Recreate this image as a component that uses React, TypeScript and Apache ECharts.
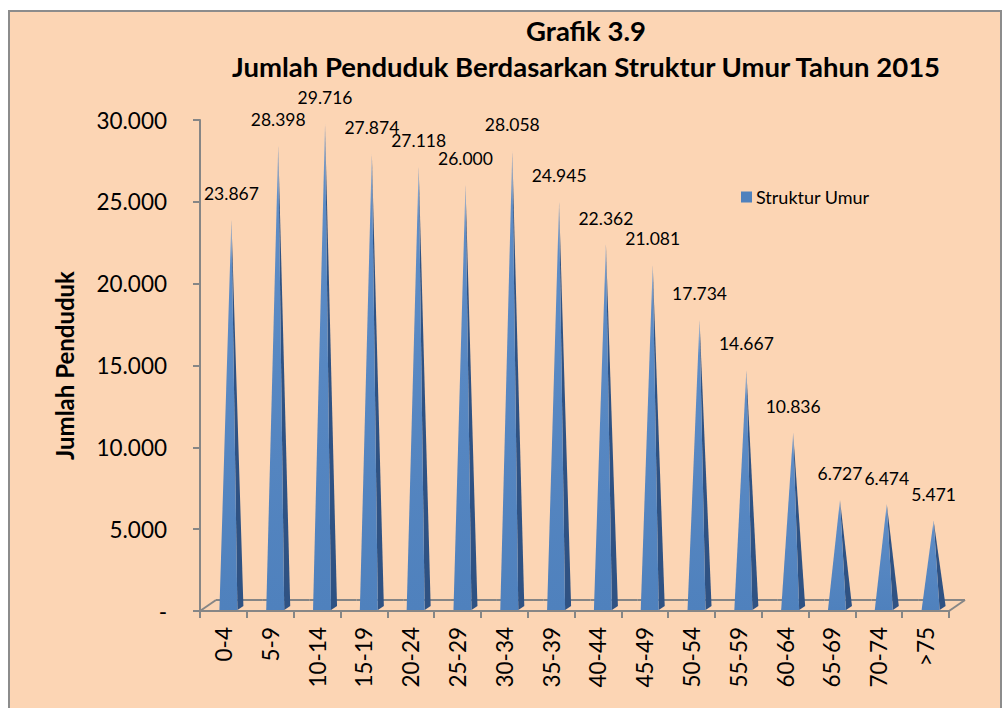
import React, { useEffect, useRef } from "react";
import * as echarts from "echarts";

const categories = ["0-4", "5-9", "10-14", "15-19", "20-24", "25-29", "30-34", "35-39", "40-44", "45-49", "50-54", "55-59", "60-64", "65-69", "70-74", ">75"];
const values = [23867, 28398, 29716, 27874, 27118, 26000, 28058, 24945, 22362, 21081, 17734, 14667, 10836, 6727, 6474, 5471];
const seriesName = "Struktur Umur";
const titleLines = ["Grafik 3.9", "Jumlah Penduduk Berdasarkan Struktur Umur Tahun 2015"];
const yAxisName = "Jumlah Penduduk";

const fmt = (v: number) => (v === 0 ? "-" : String(Math.round(v)).replace(/\B(?=(\d{3})+(?!\d))/g, "."));

const FONT = "Lato, 'Open Sans', sans-serif";
const AXIS_GRAY = "#868686";

export default function App() {
  const ref = useRef<HTMLDivElement>(null);
  useEffect(() => {
    if (!ref.current) return;
    const chart = echarts.init(ref.current, null, { renderer: "svg" });
    const n = categories.length;
    chart.setOption({
      animation: false,
      backgroundColor: "#ffffff",
      graphic: [
        {
          type: "rect",
          z: -10,
          shape: { x: 9, y: 11, width: 992, height: 720 },
          style: { fill: "#FCD5B4", stroke: "#8C8C8C", lineWidth: 2 },
          silent: true,
        },
      ],
      title: {
        text: titleLines.join("\n"),
        left: 581,
        top: 7,
        textAlign: "center",
        textStyle: { fontFamily: FONT, fontWeight: "bold", fontSize: 27.5, lineHeight: 36, color: "#000" },
      },
      legend: {
        show: true,
        data: [{ name: seriesName, icon: "rect" }],
        left: 736,
        top: 183,
        itemWidth: 11,
        itemHeight: 11,
        itemGap: 5,
        textStyle: { fontFamily: FONT, fontSize: 18, color: "#000", padding: [0, 0, 0, -1] },
      },
      grid: { left: 200, right: 55, top: 120, bottom: 97, containLabel: false },
      xAxis: {
        type: "category",
        data: categories,
        boundaryGap: true,
        axisLine: { show: true, lineStyle: { color: AXIS_GRAY, width: 2 } },
        axisTick: { show: true, length: 7, alignWithLabel: false, lineStyle: { color: AXIS_GRAY, width: 2 } },
        axisLabel: { rotate: 90, interval: 0, margin: 16, fontFamily: FONT, fontSize: 22.5, color: "#000" },
        splitLine: { show: false },
      },
      yAxis: {
        type: "value",
        min: 0,
        max: 30000,
        interval: 5000,
        name: yAxisName,
        nameLocation: "middle",
        nameRotate: 90,
        nameGap: 124,
        nameTextStyle: { fontFamily: FONT, fontWeight: "bold", fontSize: 24, color: "#000" },
        axisLine: { show: true, lineStyle: { color: AXIS_GRAY, width: 2 } },
        axisTick: { show: true, length: 7, lineStyle: { color: AXIS_GRAY, width: 2 } },
        axisLabel: { margin: 33, formatter: fmt, fontFamily: FONT, fontSize: 22.5, color: "#000" },
        splitLine: { show: false },
      },
      series: [
        {
          name: seriesName,
          type: "custom",
          itemStyle: { color: "#4F81BD" },
          data: values.map((v, i) => [i, v]),
          encode: { x: 0, y: 1 },
          renderItem: (params: any, api: any) => {
            const i = api.value(0);
            const v = api.value(1);
            const base = api.coord([i, 0]);
            const top = api.coord([i, v]);
            const bw = api.size([1, 0])[0];
            const dx = 16;
            const dy = 11;
            const cx = base[0] + 8;
            const y0 = base[1] - 1;
            const ty = top[1] - 1;
            const children: any[] = [];
            children.push({
              type: "line",
              shape: { x1: base[0] - bw / 2 + dx, y1: base[1] - dy, x2: base[0] + bw / 2 + dx, y2: base[1] - dy },
              style: { stroke: AXIS_GRAY, lineWidth: 2 },
            });
            if (i === 0) {
              children.push({
                type: "line",
                shape: { x1: base[0] - bw / 2, y1: base[1], x2: base[0] - bw / 2 + dx, y2: base[1] - dy },
                style: { stroke: AXIS_GRAY, lineWidth: 2 },
              });
            }
            if (i === n - 1) {
              children.push({
                type: "line",
                shape: { x1: base[0] + bw / 2, y1: base[1], x2: base[0] + bw / 2 + dx, y2: base[1] - dy },
                style: { stroke: AXIS_GRAY, lineWidth: 2 },
              });
            }
            children.push({
              type: "polygon",
              shape: { points: [[cx + 6, y0], [cx + 12, y0 - 4], [cx, ty]] },
              style: { fill: "#2F5283" },
            });
            children.push({
              type: "polygon",
              shape: { points: [[cx - 12, y0], [cx + 6, y0], [cx, ty]] },
              style: {
                fill: new echarts.graphic.LinearGradient(0, 0, 0, 1, [
                  { offset: 0, color: "#9DB3D0" },
                  { offset: 0.12, color: "#5D8CC6" },
                  { offset: 1, color: "#4F81BD" },
                ]),
              },
            });
            return { type: "group", children };
          },
          z: 3,
        },
        {
          name: "labels",
          type: "bar",
          data: values,
          barWidth: 4,
          silent: true,
          itemStyle: { color: "rgba(0,0,0,0)" },
          label: {
            show: true,
            position: "top",
            distance: 18,
            offset: [8, 0],
            formatter: (p: any) => fmt(p.value),
            fontFamily: FONT,
            fontSize: 17.5,
            lineHeight: 18,
            color: "#000",
          },
          z: 4,
        },
      ],
    });
    return () => chart.dispose();
  }, []);
  return <div ref={ref} style={{ position: "absolute", left: 0, top: 0, width: 1004, height: 708 }} />;
}
